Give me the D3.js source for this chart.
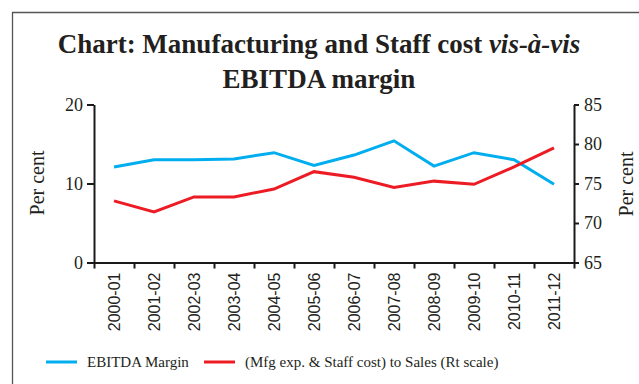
<!DOCTYPE html>
<html lang="en">
<head>
<meta charset="utf-8">
<title>Manufacturing and Staff cost vis-a-vis EBITDA margin</title>
<style>
  body { margin: 0; background: #fff; }
  svg { display: block; font-family: "Liberation Serif", serif; }
  .axis path, .axis line { stroke: #1a1a1a; stroke-width: 2px; }
  .axis text { font-family: "Liberation Serif", serif; font-size: 18px; fill: #231f20; }
  .xlab text { font-family: "Liberation Sans", sans-serif; font-size: 16px; fill: #231f20; }
</style>
<script src="https://cdn.jsdelivr.net/npm/d3@7"></script>
</head>
<body>
<script>
// data
var years = ["2000-01", "2001-02", "2002-03", "2003-04", "2004-05", "2005-06",
             "2006-07", "2007-08", "2008-09", "2009-10", "2010-11", "2011-12"];
var ebitda = [12.1, 13.0, 13.0, 13.1, 13.9, 12.3, 13.6, 15.4, 12.2, 13.9, 13.0, 9.9];
var costToSales = [72.8, 71.4, 73.3, 73.3, 74.3, 76.5, 75.8, 74.5, 75.3, 74.9, 77.1, 79.5];
var leftTicks = [0, 10, 20];
var rightTicks = [65, 70, 75, 80, 85];
var legendLabels = ["EBITDA Margin", "(Mfg exp. & Staff cost) to Sales (Rt scale)"];
var blue = "#00aeef", red = "#ed1c24";

function draw(){
  var width = 639, height = 384;
  var plotL = 94, plotR = 574, plotT = 104.5, plotB = 262.5;

  var svg = d3.select("body").append("svg")
      .attr("width", width)
      .attr("height", height);

  // frame (only top and left edges show)
  svg.append("path")
      .attr("d", "M12.5,384V12.5H639")
      .attr("fill", "none")
      .attr("stroke", "#555")
      .attr("stroke-width", 1.3);

  // title
  var title = svg.append("text")
      .attr("text-anchor", "middle")
      .attr("font-weight", "bold")
      .attr("font-size", "27px")
      .attr("fill", "#231f20");
  title.append("tspan").attr("x", 319).attr("y", 53).text("Chart: Manufacturing and Staff cost ");
  title.append("tspan").attr("font-style", "italic").text("vis-à-vis");
  title.append("tspan").attr("x", 319).attr("y", 88).text("EBITDA margin");

  var x = d3.scaleBand().domain(years).range([plotL, plotR]);
  var xEdge = d3.scaleLinear().domain([0, years.length]).range([plotL, plotR]);
  var yL = d3.scaleLinear().domain([0, 20]).range([plotB, plotT]);
  var yR = d3.scaleLinear().domain([65, 85]).range([plotB, plotT]);

  // axes
  svg.append("g")
      .attr("class", "axis")
      .attr("transform", "translate(" + plotL + ",0)")
      .call(d3.axisLeft(yL).tickValues(leftTicks).tickSize(7).tickSizeOuter(0).tickPadding(4));

  svg.append("g")
      .attr("class", "axis")
      .attr("transform", "translate(" + plotR + ",0)")
      .call(d3.axisRight(yR).tickValues(rightTicks).tickSize(5).tickSizeOuter(0).tickPadding(5));

  svg.append("g")
      .attr("class", "axis")
      .attr("transform", "translate(0," + plotB + ")")
      .call(d3.axisBottom(xEdge).tickValues(d3.range(years.length + 1)).tickFormat("").tickSize(6).tickSizeOuter(0));

  svg.append("g")
      .attr("class", "xlab")
      .selectAll("text")
      .data(years)
      .enter()
      .append("text")
      .attr("transform", function(d){ return "translate(" + (x(d) + x.bandwidth() / 2) + "," + (plotB + 10) + ") rotate(-90)"; })
      .attr("text-anchor", "end")
      .attr("dy", "0.36em")
      .text(function(d){ return d; });

  // axis titles
  svg.append("text")
      .attr("transform", "translate(44,183) rotate(-90)")
      .attr("text-anchor", "middle")
      .attr("font-size", "20px")
      .attr("fill", "#231f20")
      .text("Per cent");

  svg.append("text")
      .attr("transform", "translate(633,184) rotate(-90)")
      .attr("text-anchor", "middle")
      .attr("font-size", "20px")
      .attr("fill", "#231f20")
      .text("Per cent");

  // lines
  var cx = function(d, i){ return x(years[i]) + x.bandwidth() / 2; };

  svg.append("path")
      .datum(ebitda)
      .attr("fill", "none")
      .attr("stroke", blue)
      .attr("stroke-width", 3)
      .attr("d", d3.line().x(cx).y(function(d){ return yL(d); }));

  svg.append("path")
      .datum(costToSales)
      .attr("fill", "none")
      .attr("stroke", red)
      .attr("stroke-width", 3)
      .attr("d", d3.line().x(cx).y(function(d){ return yR(d); }));

  // legend
  var legend = [
    {label: legendLabels[0], color: blue, x: 46},
    {label: legendLabels[1], color: red, x: 204}
  ];
  var lg = svg.selectAll(".leg")
      .data(legend)
      .enter()
      .append("g")
      .attr("class", "leg")
      .attr("transform", function(d){ return "translate(" + d.x + ",362)"; });
  lg.append("line")
      .attr("x1", 0).attr("x2", 31)
      .attr("stroke", function(d){ return d.color; })
      .attr("stroke-width", 3);
  lg.append("text")
      .attr("x", 41)
      .attr("y", 5)
      .attr("font-size", "15px")
      .attr("fill", "#231f20")
      .text(function(d){ return d.label; });
}

draw();
</script>
</body>
</html>
